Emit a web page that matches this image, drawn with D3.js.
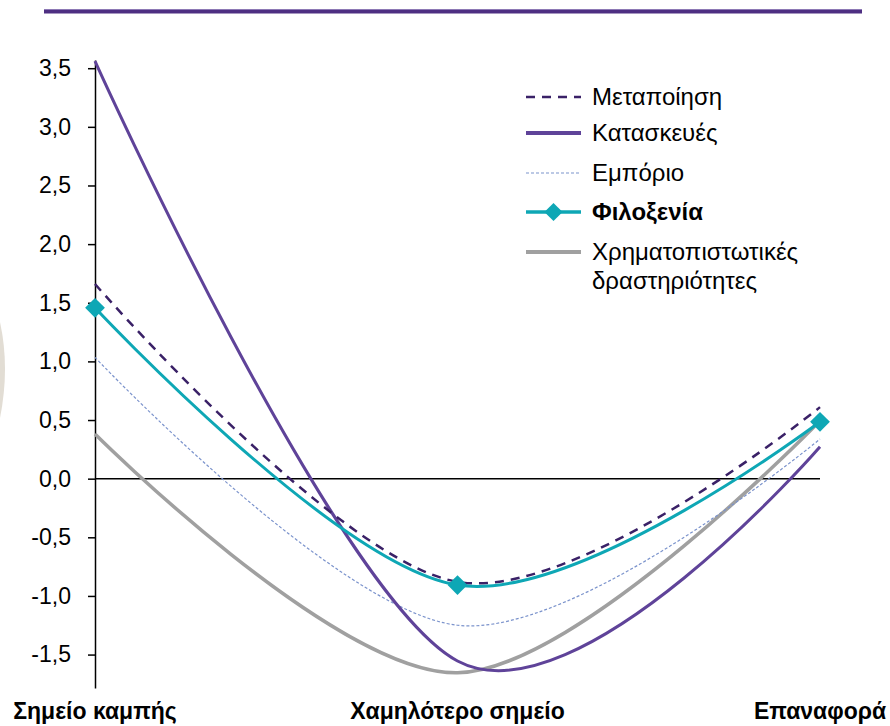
<!DOCTYPE html>
<html><head><meta charset="utf-8">
<script src="https://cdn.jsdelivr.net/npm/d3@7"></script>
<style>body{margin:0;background:#fff;font-family:"Liberation Sans",Arial,sans-serif}</style>
</head><body><svg id="c" width="890" height="726"></svg>
<script>
const categories = ["Σημείο καμπής", "Χαμηλότερο σημείο", "Επαναφορά"];
const seriesNames = ["Μεταποίηση", "Κατασκευές", "Εμπόριο", "Φιλοξενία", "Χρηματοπιστωτικές δραστηριότητες"];
const metapoiisi = [1.66, -0.88, 0.61];
const kataskeves = [3.56, -1.555, 0.272];
const emporio = [1.034, -1.25, 0.338];
const filoxenia = [1.457, -0.907, 0.485];
const xrimatopistotikes = [0.38, -1.655, 0.494];
const yTicks = [-1.5, -1.0, -0.5, 0.0, 0.5, 1.0, 1.5, 2.0, 2.5, 3.0, 3.5];

const svg = d3.select("#c");
const x = d3.scalePoint().domain(categories).range([95, 820]);
const y = d3.scaleLinear().domain([-1.785, 3.57]).range([688, 60]);

// decorative
svg.append("rect").attr("x",44).attr("y",9).attr("width",818).attr("height",4.5).attr("fill","#4e2f82");
svg.append("rect").attr("x",44).attr("y",9).attr("width",818).attr("height",1).attr("fill","#8d79b5");
svg.append("path").attr("d","M0,322 Q10,368 0,418 Z").attr("fill","#e2ddd4");

// zero line
svg.append("line").attr("x1",x(categories[0])).attr("x2",x(categories[2]))
  .attr("y1",y(0)).attr("y2",y(0)).attr("stroke","#000").attr("stroke-width",1.5);

// y axis
const fmt = v => d3.format(".1f")(v).replace(".", ",").replace("−","-");
const yAxis = d3.axisLeft(y).tickValues(yTicks).tickFormat(fmt).tickSize(7).tickSizeOuter(0).tickPadding(17);
const ga = svg.append("g").attr("transform","translate(95,0)").call(yAxis);
ga.select(".domain").attr("stroke","#000").attr("stroke-width",1.5);
ga.selectAll(".tick line").attr("stroke","#000").attr("stroke-width",1.5);
ga.selectAll(".tick text").attr("font-family","Liberation Sans, Arial, sans-serif").attr("font-size",23).attr("fill","#000");

// category labels
svg.selectAll("text.cat").data(categories).enter().append("text").attr("class","cat")
  .attr("x", d=>x(d)).attr("y", 719).attr("text-anchor","middle")
  .attr("font-size",23).attr("font-weight","bold").attr("fill","#000").text(d=>d);

const line = d3.line().x((d,i)=>x(categories[i])).y(d=>y(d)).curve(d3.curveCardinal.tension(0));

const styles = [
  {data: xrimatopistotikes, color:"#a0a0a0", w:3.5, dash:null},
  {data: emporio, color:"#7b93cc", w:1.2, dash:"3,2"},
  {data: kataskeves, color:"#5f4399", w:3, dash:null},
  {data: metapoiisi, color:"#3a2167", w:2.5, dash:"9,7"},
  {data: filoxenia, color:"#0ea7b5", w:3, dash:null}
];
styles.forEach(s=>{
  svg.append("path").datum(s.data).attr("d", line).attr("fill","none")
    .attr("stroke", s.color).attr("stroke-width", s.w).attr("stroke-dasharray", s.dash);
});
const diamond = d3.symbol().type(d3.symbolDiamond2).size(250);
svg.selectAll("path.mk").data(filoxenia).enter().append("path").attr("class","mk")
  .attr("d", diamond).attr("transform",(d,i)=>`translate(${x(categories[i])},${y(d)})`).attr("fill","#0ea7b5");

// legend
const leg = [
  {name: seriesNames[0], color:"#3a2167", w:2.5, dash:"9,7", y:97},
  {name: seriesNames[1], color:"#5f4399", w:4, dash:null, y:133},
  {name: seriesNames[2], color:"#7b93cc", w:1.2, dash:"3,2", y:173},
  {name: seriesNames[3], color:"#0ea7b5", w:3.5, dash:null, y:212, bold:true, marker:true},
  {name: seriesNames[4], color:"#a0a0a0", w:4, dash:null, y:252}
];
leg.forEach(l=>{
  svg.append("line").attr("x1",526).attr("x2",581).attr("y1",l.y).attr("y2",l.y)
    .attr("stroke",l.color).attr("stroke-width",l.w).attr("stroke-dasharray",l.dash);
  if (l.marker) svg.append("path").attr("d", d3.symbol().type(d3.symbolDiamond2).size(210)())
    .attr("transform",`translate(553.5,${l.y})`).attr("fill",l.color);
  const t = svg.append("text").attr("x",592).attr("y",l.y+8).attr("font-size",24).attr("fill","#000")
    .attr("font-weight", l.bold?"bold":"normal");
  if (l.name.indexOf(" ")>0 && l.name.length>20) {
    const parts = l.name.split(" ");
    t.append("tspan").attr("x",592).text(parts[0]);
    t.append("tspan").attr("x",592).attr("dy",29).text(parts[1]);
  } else t.text(l.name);
});
</script></body></html>
